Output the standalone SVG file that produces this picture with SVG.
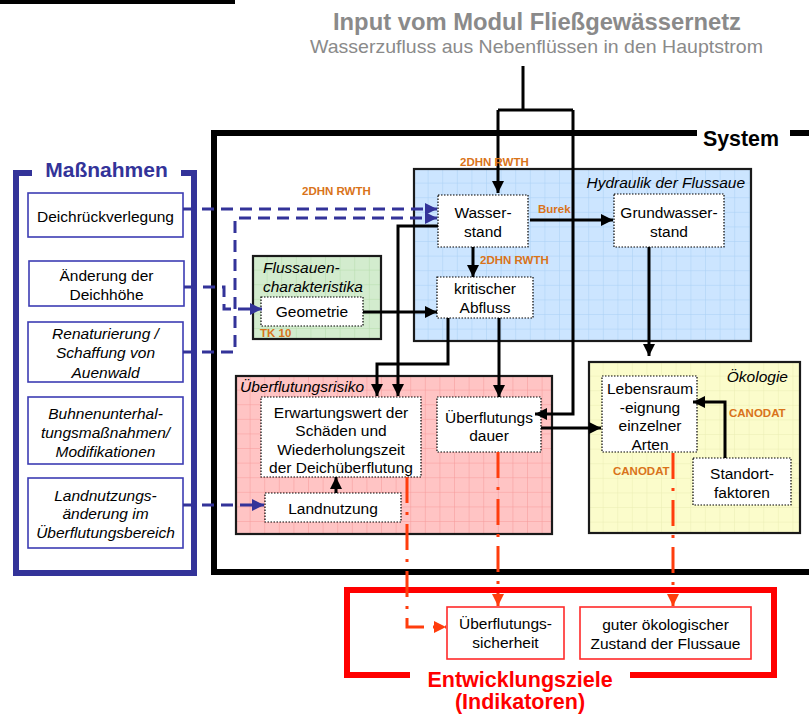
<svg xmlns="http://www.w3.org/2000/svg" width="809" height="715" viewBox="0 0 809 715">
  <style>
    text { font-family: "Liberation Sans", Arial, sans-serif; }
    .t { font-size: 15.5px; fill: #000; text-anchor: middle; }
    .ti { font-size: 15.5px; fill: #000; font-style: italic; }
    .tim { font-size: 15.5px; fill: #000; font-style: italic; text-anchor: middle; }
    .src { font-size: 11.5px; font-weight: bold; fill: #d9731a; }
    .node { fill: #fff; stroke: #000; stroke-width: 1.2; stroke-dasharray: 1.5 1.5; }
    .mbox { fill: #fff; stroke: #3d3db3; stroke-width: 1.6; }
    .gbox { fill: #fff; stroke: #ff2a2a; stroke-width: 1.6; }
    .area { stroke: #1a1a1a; stroke-width: 2.2; }
    .flow { fill: none; stroke: #000; stroke-width: 3; }
    .meas { fill: none; stroke: #333399; stroke-width: 3; stroke-dasharray: 12 7; }
    .goal { fill: none; stroke: #ff3d0d; stroke-width: 3; stroke-dasharray: 26 9 3 9; }
  </style>
  <defs>
    <pattern id="gridBlue" x="414" y="169" width="14.6" height="14.6" patternUnits="userSpaceOnUse">
      <rect width="14.6" height="14.6" fill="#cce5ff"/>
      <path d="M14.6 0V14.6M0 14.6H14.6" stroke="#a9d0f5" stroke-width="1"/>
    </pattern>
    <pattern id="gridGreen" x="253" y="256" width="14.6" height="14.6" patternUnits="userSpaceOnUse">
      <rect width="14.6" height="14.6" fill="#d3ecce"/>
      <path d="M14.6 0V14.6M0 14.6H14.6" stroke="#b5dcab" stroke-width="1"/>
    </pattern>
    <pattern id="gridPink" x="236" y="376" width="14.6" height="14.6" patternUnits="userSpaceOnUse">
      <rect width="14.6" height="14.6" fill="#ffc4c4"/>
      <path d="M14.6 0V14.6M0 14.6H14.6" stroke="#f79a9a" stroke-width="1"/>
    </pattern>
    <pattern id="gridYellow" x="589" y="362" width="14.6" height="14.6" patternUnits="userSpaceOnUse">
      <rect width="14.6" height="14.6" fill="#fbfccb"/>
      <path d="M14.6 0V14.6M0 14.6H14.6" stroke="#eaedb4" stroke-width="1"/>
    </pattern>
    <marker id="ah" viewBox="0 0 10 10" refX="10" refY="5" markerWidth="12" markerHeight="12" markerUnits="userSpaceOnUse" orient="auto">
      <path d="M0 0L10 5L0 10z" fill="#000"/>
    </marker>
    <marker id="ahBlue" viewBox="0 0 10 10" refX="10" refY="5" markerWidth="12" markerHeight="12" markerUnits="userSpaceOnUse" orient="auto">
      <path d="M0 0L10 5L0 10z" fill="#333399"/>
    </marker>
    <marker id="ahRed" viewBox="0 0 10 10" refX="10" refY="5" markerWidth="12" markerHeight="12" markerUnits="userSpaceOnUse" orient="auto">
      <path d="M0 0L10 5L0 10z" fill="#ff3d0d"/>
    </marker>
  </defs>

  <rect width="809" height="715" fill="#fff"/>
  <rect x="0" y="0" width="235" height="4" fill="#000"/>

  <!-- input from the river network module -->
  <g id="input">
    <text x="537" y="30" font-size="24" font-weight="bold" fill="#8a8a8a" text-anchor="middle" textLength="408" lengthAdjust="spacingAndGlyphs">Input vom Modul Fließgewässernetz</text>
    <text x="536.5" y="53" font-size="19" fill="#8a8a8a" text-anchor="middle" textLength="453" lengthAdjust="spacingAndGlyphs">Wasserzufluss aus Nebenflüssen in den Hauptstrom</text>
  </g>

  <!-- system frame -->
  <g id="system">
    <path d="M697 133H214V572H809" fill="none" stroke="#000" stroke-width="6"/>
    <path d="M790 133H809" stroke="#000" stroke-width="6"/>
    <text x="741" y="146" font-size="21.4" font-weight="bold" text-anchor="middle">System</text>
  </g>

  <!-- measures -->
  <g id="massnahmen">
    <path d="M32 173H16V573H194V173H181" fill="none" stroke="#333399" stroke-width="6"/>
    <text x="106.5" y="177" font-size="21" font-weight="bold" fill="#333399" text-anchor="middle">Maßnahmen</text>
  </g>
  <g id="m-deichrueckverlegung">
    <rect class="mbox" x="28" y="193" width="155" height="44"/>
    <text class="t" x="105.5" y="221.5">Deichrückverlegung</text>
  </g>
  <g id="m-deichhoehe">
    <rect class="mbox" x="29" y="261" width="155" height="45"/>
    <text class="t" x="106.5" y="280.5">Änderung der</text>
    <text class="t" x="106.5" y="299.5">Deichhöhe</text>
  </g>
  <g id="m-renaturierung">
    <rect class="mbox" x="28" y="322" width="155" height="60"/>
    <text class="tim" x="105.5" y="338.5">Renaturierung /</text>
    <text class="tim" x="105.5" y="358">Schaffung von</text>
    <text class="tim" x="105.5" y="377.5">Auenwald</text>
  </g>
  <g id="m-buhnen">
    <rect class="mbox" x="28" y="397" width="155" height="67"/>
    <text class="tim" x="105.5" y="418.5">Buhnenunterhal-</text>
    <text class="tim" x="105.5" y="437.5">tungsmaßnahmen/</text>
    <text class="tim" x="105.5" y="456.5">Modifikationen</text>
  </g>
  <g id="m-landnutzung">
    <rect class="mbox" x="28" y="478" width="155" height="70"/>
    <text class="tim" x="105.5" y="500.5">Landnutzungs-</text>
    <text class="tim" x="105.5" y="519">änderung im</text>
    <text class="tim" x="105.5" y="538">Überflutungsbereich</text>
  </g>

  <!-- sub-model areas -->
  <g id="hydraulik">
    <rect class="area" x="414" y="169" width="337" height="172" fill="url(#gridBlue)"/>
    <text class="ti" x="745" y="188" text-anchor="end">Hydraulik der Flussaue</text>
  </g>
  <g id="flussauen">
    <rect class="area" x="253" y="256" width="128" height="83" fill="url(#gridGreen)"/>
    <text class="ti" x="263" y="273">Flussauen-</text>
    <text class="ti" x="263" y="292">charakteristika</text>
    <text class="src" x="260" y="337">TK 10</text>
  </g>
  <g id="risiko">
    <rect class="area" x="236" y="376" width="316" height="158" fill="url(#gridPink)"/>
    <text class="ti" x="240" y="392">Überflutungsrisiko</text>
  </g>
  <g id="oekologie">
    <rect class="area" x="589" y="362" width="211" height="171" fill="url(#gridYellow)"/>
    <text class="ti" x="788" y="382" text-anchor="end">Ökologie</text>
  </g>

  <!-- model nodes -->
  <g id="wasserstand">
    <rect class="node" x="438" y="195" width="90" height="52"/>
    <text class="t" x="483" y="218">Wasser-</text>
    <text class="t" x="483" y="236.5">stand</text>
  </g>
  <g id="grundwasserstand">
    <rect class="node" x="614" y="194" width="110" height="53"/>
    <text class="t" x="669" y="218">Grundwasser-</text>
    <text class="t" x="669" y="236.5">stand</text>
  </g>
  <g id="kritischer-abfluss">
    <rect class="node" x="437" y="277" width="96" height="41"/>
    <text class="t" x="485" y="293.5">kritischer</text>
    <text class="t" x="485" y="312.5">Abfluss</text>
  </g>
  <g id="geometrie">
    <rect class="node" x="261" y="297" width="102" height="29"/>
    <text class="t" x="312" y="316.5">Geometrie</text>
  </g>
  <g id="erwartungswert">
    <rect class="node" x="261" y="397" width="160" height="80"/>
    <text class="t" x="341" y="417.5">Erwartungswert der</text>
    <text class="t" x="341" y="436">Schäden und</text>
    <text class="t" x="341" y="454.5">Wiederholungszeit</text>
    <text class="t" x="341" y="473">der Deichüberflutung</text>
  </g>
  <g id="landnutzung">
    <rect class="node" x="265" y="493" width="136" height="29"/>
    <text class="t" x="333" y="513.5">Landnutzung</text>
  </g>
  <g id="ueberflutungsdauer">
    <rect class="node" x="437" y="397" width="104" height="55"/>
    <text class="t" x="489" y="422.5">Überflutungs</text>
    <text class="t" x="489" y="440.5">dauer</text>
  </g>
  <g id="lebensraum">
    <rect class="node" x="602" y="376" width="95" height="76"/>
    <text class="t" x="650" y="393.5">Lebensraum</text>
    <text class="t" x="650" y="412.5">-eignung</text>
    <text class="t" x="650" y="430.5">einzelner</text>
    <text class="t" x="650" y="449.5">Arten</text>
  </g>
  <g id="standortfaktoren">
    <rect class="node" x="693" y="458" width="98" height="47"/>
    <text class="t" x="742" y="478.5">Standort-</text>
    <text class="t" x="742" y="497.5">faktoren</text>
  </g>

  <!-- development goals -->
  <g id="entwicklungsziele">
    <path d="M410 675H347V590H774V675H630" fill="none" stroke="#ff0000" stroke-width="6"/>
    <text x="520" y="687" font-size="21.5" font-weight="bold" fill="#ff0000" text-anchor="middle">Entwicklungsziele</text>
    <text x="520" y="709" font-size="21.5" font-weight="bold" fill="#ff0000" text-anchor="middle">(Indikatoren)</text>
  </g>
  <g id="ueberflutungssicherheit">
    <rect class="gbox" x="447" y="607" width="117" height="52"/>
    <text class="t" x="505.5" y="628.5">Überflutungs-</text>
    <text class="t" x="505.5" y="648">sicherheit</text>
  </g>
  <g id="oekologischer-zustand">
    <rect class="gbox" x="580" y="607" width="171" height="52"/>
    <text class="t" x="665.5" y="630">guter ökologischer</text>
    <text class="t" x="665.5" y="649">Zustand der Flussaue</text>
  </g>

  <!-- connectors -->
  <g id="connectors">
    <!-- inflow from the network module -->
    <path class="flow" d="M523 66V110M498 110H573"/>
    <path class="flow" d="M498 110V193" marker-end="url(#ah)"/>
    <path class="flow" d="M573 110V414H535" marker-end="url(#ah)"/>
    <!-- hydraulics -->
    <path class="flow" d="M530 220H613" marker-end="url(#ah)"/>
    <path class="flow" d="M473 247V277" marker-end="url(#ah)"/>
    <path class="flow" d="M649 247V356" marker-end="url(#ah)"/>
    <path class="flow" d="M363 312H437" marker-end="url(#ah)"/>
    <path class="flow" d="M438 226H398V396" marker-end="url(#ah)"/>
    <path class="flow" d="M448 318V364H377V396" marker-end="url(#ah)"/>
    <path class="flow" d="M499 318V397" marker-end="url(#ah)"/>
    <path class="flow" d="M541 428H601" marker-end="url(#ah)"/>
    <path class="flow" d="M725 458V402H693" marker-end="url(#ah)"/>
    <path class="flow" d="M336 493V477" marker-end="url(#ah)"/>
    <!-- measures -->
    <path class="meas" d="M183 209H437" marker-end="url(#ahBlue)"/>
    <path class="meas" d="M183 352H235V218H437" marker-end="url(#ahBlue)"/>
    <path class="meas" d="M184 287H224V309H262" marker-end="url(#ahBlue)"/>
    <path class="meas" d="M183 505H264" marker-end="url(#ahBlue)"/>
    <!-- indicators -->
    <path class="goal" d="M407 477V627H446" marker-end="url(#ahRed)"/>
    <path class="goal" d="M498 452V606" marker-end="url(#ahRed)"/>
    <path class="goal" d="M673 453V606" marker-end="url(#ahRed)"/>
    <!-- data sources -->
    <text class="src" x="460" y="166">2DHN RWTH</text>
    <text class="src" x="480" y="264">2DHN RWTH</text>
    <text class="src" x="302" y="195">2DHN RWTH</text>
    <text class="src" x="538" y="213">Burek</text>
    <text class="src" x="729" y="417">CANODAT</text>
    <text class="src" x="613" y="475">CANODAT</text>
  </g>
</svg>
